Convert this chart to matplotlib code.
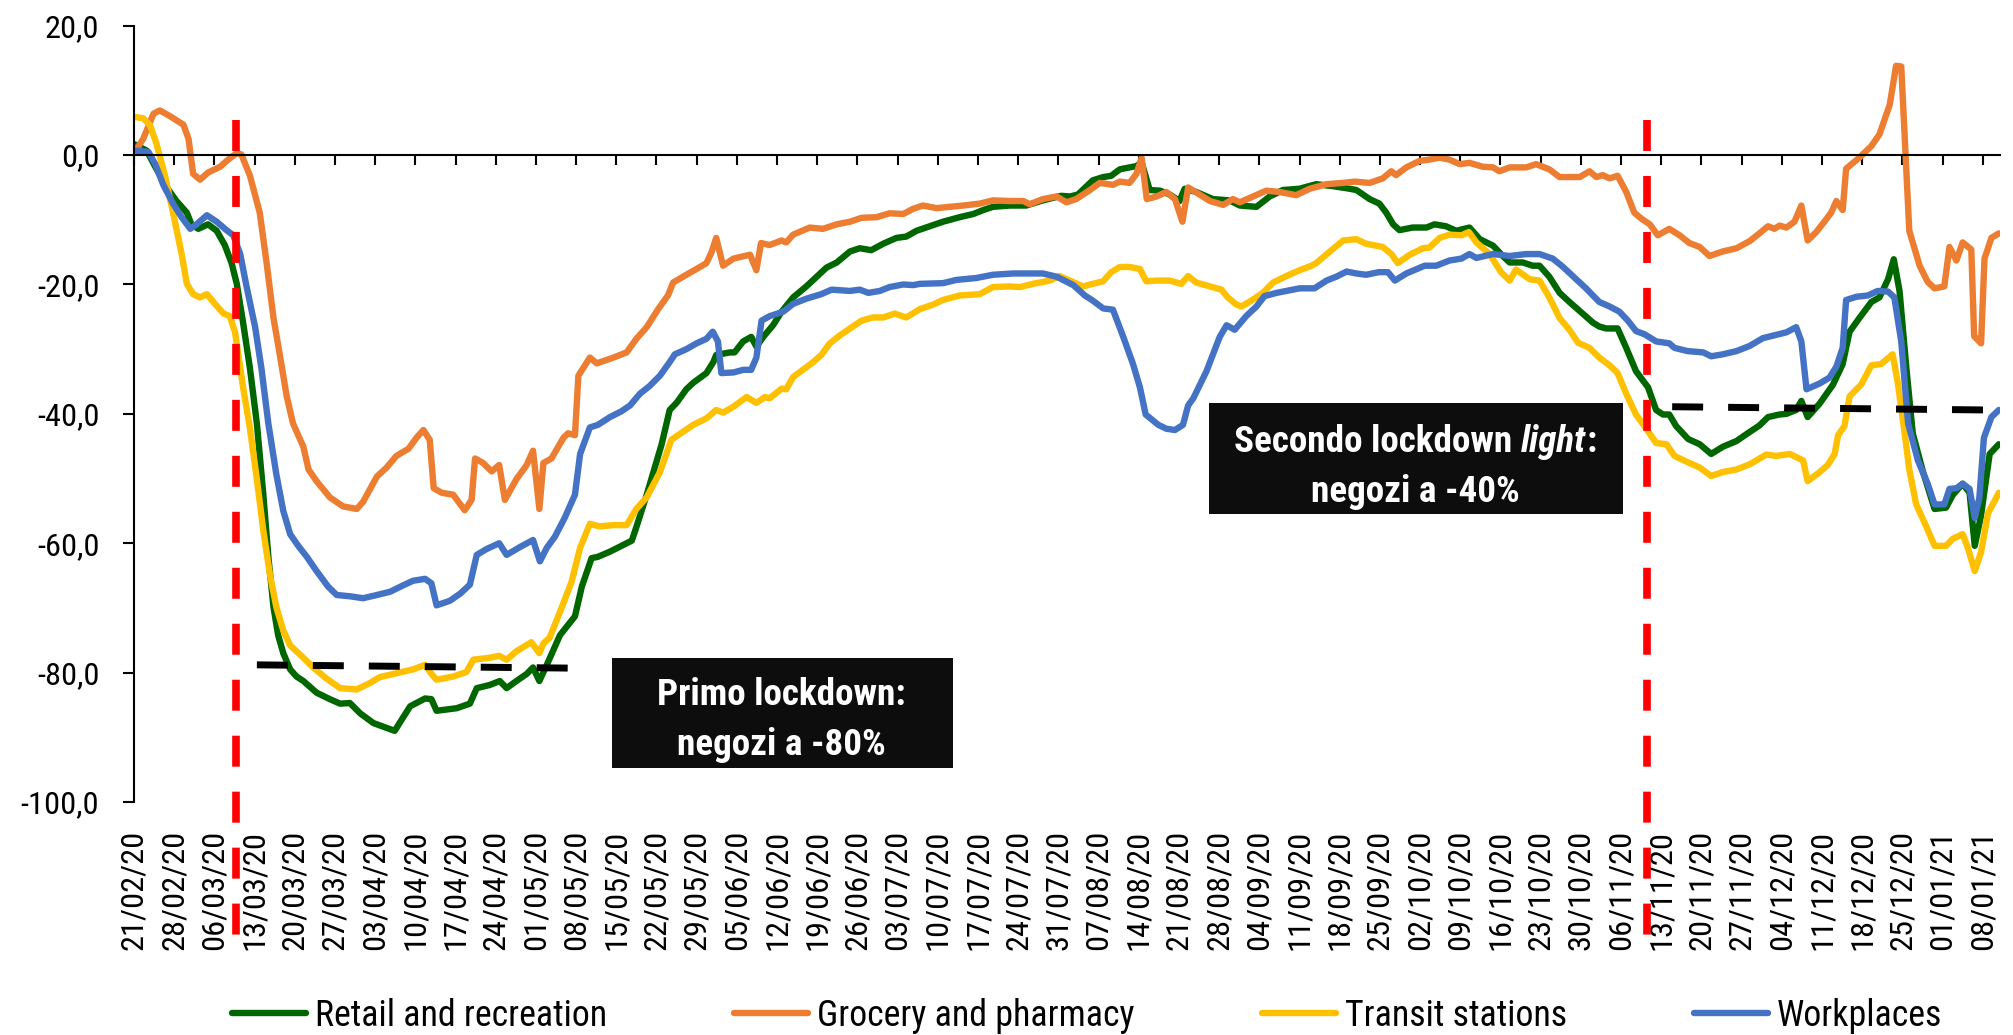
import matplotlib
matplotlib.use('Agg')
import matplotlib.pyplot as plt
from matplotlib import font_manager as fm
from matplotlib.lines import Line2D
from matplotlib.patches import Rectangle
import numpy as np
from datetime import datetime, timedelta

# ---------------- data (x = days since 21/02/2020) ----------------
START = datetime(2020, 2, 21)

retail_days = [0, 2.2, 3.7, 5.7, 7.4, 9.2, 10.0, 11.2, 12.9, 14.4, 15.8, 17.0, 17.9, 19.0, 20.2, 21.4,
               22.5, 23.4, 24.3, 25.1, 26.0, 27.2, 28.3, 29.5, 31.8, 34.1, 35.9, 37.6, 39.4, 41.7, 45.4,
               48.1, 50.7, 51.8, 52.7, 56.2, 58.5, 59.7, 62.0, 63.7, 64.9, 66.6, 68.4, 69.5, 70.6, 71.9,
               74.2, 76.8, 78.0, 79.7, 80.8, 82.9, 84.9, 86.7, 87.5, 89.3, 91.9, 93.3, 94.5, 96.2, 97.4,
               99.7, 100.9, 101.4, 103.8, 104.6, 106.1, 107.5, 108.4, 109.6, 111.3, 112.8, 114.8, 117.1,
               118.9, 120.6, 122.4, 124.7, 126.4, 128.4, 130.5, 132.8, 134.5, 136.3, 138.6, 140.9, 143.8,
               146.2, 147.9, 149.6, 152.5, 155.4, 158.3, 161.5, 163.0, 164.4, 167.0, 168.8, 170.2, 171.7,
               174.6, 175.5, 176.9, 178.7, 180.4, 182.1, 183.0, 185.0, 187.9, 190.8, 192.6, 195.5, 197.8,
               200.1, 203.0, 205.9, 208.8, 211.7, 212.9, 215.2, 216.9, 218.1, 219.3, 220.4, 222.7, 225.1,
               226.5, 228.5, 230.3, 232.6, 234.4, 236.7, 238.4, 239.6, 241.9, 243.6, 244.8, 246.5, 248.3,
               250.0, 252.3, 254.1, 255.2, 256.4, 258.4, 259.9, 261.6, 263.7, 265.1, 266.3, 267.4, 268.6,
               270.7, 272.7, 274.7, 276.7, 279.1, 281.4, 283.1, 284.6, 286.6, 287.8, 289.5, 290.4, 291.5,
               293.6, 295.9, 297.6, 298.8, 300.5, 302.6, 304.0, 305.5, 306.5, 307.5, 308.7, 309.8, 311.6,
               313.6, 315.6, 316.8, 318.5, 319.7, 320.6, 321.7, 323.2, 324.8]
retail_vals = [1.7, 0.7, -1.8, -5.0, -7.1, -8.9, -10.7, -11.4, -10.7, -11.7, -13.9, -16.7, -19.9, -25.9, -33.0, -41.5,
               -52.2, -62.1, -69.9, -74.2, -77.0, -79.5, -80.6, -81.3, -83.1, -84.1, -84.8, -84.7, -86.3, -87.8, -89.0,
               -85.2, -84.0, -84.1, -85.9, -85.5, -84.8, -82.4, -81.9, -81.3, -82.4, -81.3, -80.2, -79.2, -81.3, -78.8,
               -74.2, -71.3, -66.7, -62.3, -62.1, -61.3, -60.4, -59.6, -57.5, -52.5, -44.7, -39.4, -38.3, -36.2, -35.2,
               -33.7, -32.0, -30.9, -30.5, -30.5, -28.8, -28.1, -29.6, -28.1, -26.3, -24.2, -22.0, -20.3,
               -18.8, -17.4, -16.6, -14.9, -14.4, -14.7, -13.7, -12.8, -12.6, -11.7, -11.0, -10.3, -9.6,
               -9.1, -8.5, -8.0, -7.8, -7.8, -7.0, -6.3, -6.4, -6.1, -3.9, -3.4, -3.2, -2.2,
               -1.7, -1.1, -5.4, -5.5, -6.1, -7.1, -5.2, -5.7, -6.8, -7.0, -7.8, -8.0, -6.4,
               -5.4, -5.2, -4.5, -4.8, -5.2, -5.4, -6.8, -7.5, -8.9, -10.7, -11.6, -11.2, -11.2,
               -10.7, -11.0, -11.7, -11.2, -13.0, -14.0, -15.6, -16.6, -16.6, -17.1, -17.1, -18.8, -21.3,
               -22.7, -24.5, -25.9, -26.5, -26.8, -26.8, -29.8, -33.4, -35.9, -39.4, -40.1, -40.1, -41.9,
               -43.9, -44.7, -46.2, -45.1, -44.2, -42.8, -41.8, -40.5, -40.1, -40.0, -39.4, -38.0, -40.5,
               -38.4, -35.5, -32.3, -27.3, -25.2, -22.7, -22.0, -19.2, -16.1, -21.0, -33.0, -43.0, -49.0,
               -54.7, -54.5, -52.5, -50.8, -52.2, -60.4, -55.7, -46.2, -44.7]

grocery_days = [0, 1.6, 3.4, 4.5, 6.3, 8.6, 9.5, 10.3, 11.5, 12.9, 15.0, 16.4, 17.9, 18.7, 20.2, 21.9, 23.1,
                24.3, 25.4, 26.6, 27.7, 29.5, 30.4, 31.8, 34.1, 36.4, 38.8, 39.9, 42.3, 44.0, 45.7, 47.8,
                49.2, 50.4, 51.5, 52.2, 53.6, 55.6, 57.6, 58.8, 59.4, 60.8, 62.3, 63.6, 64.6, 66.6, 68.4,
                69.5, 70.6, 71.3, 72.7, 74.8, 75.6, 76.8, 77.4, 79.4, 80.6, 83.5, 85.8, 87.5, 89.3, 91.3,
                93.0, 93.9, 96.2, 98.0, 99.7, 100.6, 101.4, 102.6, 104.4, 107.3, 108.4, 109.2, 110.7, 112.8,
                113.6, 114.8, 117.7, 120.0, 122.4, 124.7, 126.7, 129.3, 131.6, 134.0, 135.7, 137.4, 139.8,
                142.1, 144.4, 147.3, 149.6, 152.5, 154.9, 156.0, 158.3, 160.7, 162.4, 164.1, 166.5, 168.2,
                170.5, 171.7, 173.4, 174.6, 175.5, 176.4, 178.1, 179.8, 181.3, 182.6, 183.6, 185.6, 187.4,
                189.7, 191.4, 192.6, 194.9, 197.2, 199.5, 202.4, 204.8, 207.7, 210.6, 212.6, 215.2, 217.5,
                219.0, 219.8, 221.6, 223.9, 225.6, 227.4, 229.1, 230.9, 232.6, 234.9, 236.7, 237.8, 239.6,
                242.5, 244.2, 246.5, 248.3, 251.8, 253.5, 254.7, 255.8, 257.0, 258.4, 259.9, 261.3, 262.5,
                264.0, 265.4, 267.4, 269.2, 270.9, 272.7, 274.4, 276.7, 279.1, 281.4, 283.1, 284.6, 285.7,
                286.6, 287.8, 289.2, 290.4, 291.5, 293.0, 294.4, 295.6, 296.5, 297.6, 298.2, 300.5, 302.6,
                304.0, 305.8, 306.9, 307.8, 309.2, 311.0, 312.4, 313.6, 315.3, 316.2, 317.4, 318.5, 320.0,
                320.5, 321.7, 322.3, 323.5, 324.8]
grocery_vals = [0.3, 2.5, 6.4, 6.9, 6.0, 4.7, 2.5, -2.9, -3.8, -2.7, -1.8, -0.7, 0.3, 0.1, -3.2, -8.9, -16.7,
                -25.2, -30.9, -37.3, -41.5, -45.1, -48.6, -50.4, -52.9, -54.3, -54.7, -53.6, -49.7, -48.3, -46.5, -45.4,
                -43.7, -42.5, -44.0, -51.5, -52.2, -52.5, -54.9, -53.3, -46.9, -47.6, -48.9, -47.9, -53.3, -50.1, -47.9,
                -45.7, -54.7, -47.6, -46.9, -43.7, -43.0, -43.3, -34.1, -31.3, -32.2, -31.3, -30.5, -28.4, -26.6, -23.8,
                -21.7, -19.7, -18.5, -17.6, -16.7, -15.0, -12.8, -17.1, -16.0, -15.4, -17.8, -13.6, -13.9, -13.2,
                -13.5, -12.3, -11.2, -11.4, -10.7, -10.3, -9.7, -9.6, -9.0, -9.1, -8.3, -7.8, -8.2,
                -8.0, -7.8, -7.5, -7.0, -7.1, -7.1, -7.6, -6.8, -6.4, -7.3, -6.8, -5.4, -4.3,
                -4.6, -4.1, -4.3, -2.9, -0.4, -6.8, -6.4, -5.7, -6.8, -10.3, -5.0, -6.1, -7.1,
                -7.7, -6.8, -7.3, -6.4, -5.5, -5.7, -6.2, -5.2, -4.5, -4.3, -4.1, -4.3, -3.6,
                -2.5, -3.1, -1.9, -0.9, -0.7, -0.4, -0.7, -1.4, -1.2, -1.8, -1.9, -2.5, -1.9,
                -1.9, -1.4, -2.2, -3.4, -3.4, -2.5, -3.4, -3.1, -3.6, -3.2, -5.7, -8.9, -9.8,
                -10.7, -12.4, -11.4, -12.4, -13.6, -14.2, -15.6, -14.9, -14.4, -13.3, -12.1, -11.0, -11.4,
                -10.9, -11.2, -10.3, -7.8, -13.2, -11.9, -10.3, -8.9, -7.1, -8.5, -2.1, -0.4, 1.4,
                3.2, 7.8, 13.8, 13.7, -11.7, -17.1, -19.6, -20.6, -20.3, -14.2, -16.3, -13.5, -14.6,
                -28.0, -29.1, -16.0, -12.8, -12.1]

transit_days = [0, 1.6, 2.8, 3.9, 5.4, 6.8, 8.3, 9.2, 10.3, 11.5, 12.7, 14.1, 15.6, 16.7, 17.6, 19.0, 20.2,
                21.4, 22.5, 23.7, 24.8, 26.0, 27.2, 29.5, 31.2, 33.5, 35.9, 38.8, 41.1, 42.8, 45.7, 48.6,
                50.7, 51.8, 52.7, 55.6, 57.9, 59.1, 62.0, 63.6, 64.9, 66.6, 69.2, 70.6, 71.3, 72.4, 74.2,
                76.2, 77.7, 79.4, 81.1, 83.5, 85.8, 87.5, 89.3, 91.6, 93.6, 95.1, 97.4, 99.7, 101.4, 102.6,
                104.4, 106.7, 108.4, 109.9, 110.7, 112.8, 113.6, 114.8, 116.8, 118.3, 119.7, 121.2, 122.9,
                124.7, 126.7, 128.7, 130.5, 132.5, 134.5, 136.9, 139.2, 140.9, 143.8, 147.3, 149.6, 152.5,
                154.3, 156.6, 159.5, 161.2, 163.0, 165.3, 167.0, 168.8, 170.2, 171.7, 173.4, 175.2, 176.3,
                178.1, 180.4, 182.4, 183.6, 185.0, 187.4, 189.4, 190.5, 192.0, 192.9, 194.6, 196.6, 198.4,
                200.7, 203.0, 205.1, 205.9, 208.3, 210.6, 212.9, 214.6, 217.5, 219.0, 220.1, 222.2, 224.5,
                225.6, 227.4, 229.1, 231.2, 232.5, 233.8, 236.1, 238.1, 239.6, 240.7, 243.1, 244.8, 246.5,
                248.3, 250.0, 251.5, 253.5, 255.2, 257.0, 258.4, 259.9, 261.6, 263.4, 265.1, 266.9, 268.3,
                270.9, 272.7, 274.7, 276.7, 279.1, 281.4, 284.3, 286.0, 288.4, 290.7, 291.5, 293.6, 295.0,
                296.2, 296.8, 297.9, 298.8, 300.8, 302.6, 304.3, 306.3, 307.2, 308.4, 309.2, 310.4, 312.2,
                313.6, 315.6, 316.8, 318.5, 319.4, 320.6, 321.7, 322.9, 324.8]
transit_vals = [5.9, 5.7, 4.6, 1.8, -3.2, -8.9, -15.3, -19.9, -21.5, -22.0, -21.5, -23.0, -24.5, -24.9, -27.4, -35.9, -42.3,
                -50.1, -57.9, -65.0, -69.9, -73.5, -75.8, -77.7, -79.2, -80.9, -82.4, -82.6, -81.6, -80.7, -80.1, -79.5,
                -78.8, -80.2, -81.1, -80.6, -79.9, -78.0, -77.7, -77.4, -78.0, -76.7, -75.3, -77.0, -75.5, -74.6, -70.6,
                -66.0, -60.7, -57.0, -57.4, -57.2, -57.2, -54.7, -52.9, -49.0, -44.0, -43.1, -41.7, -40.7, -39.4, -39.8,
                -38.9, -37.4, -38.3, -37.4, -37.6, -36.1, -36.2, -34.3, -33.0, -32.0, -30.9, -29.1, -27.9,
                -26.8, -25.6, -25.1, -25.1, -24.5, -25.1, -23.8, -23.1, -22.4, -21.7, -21.5, -20.4, -20.3,
                -20.4, -19.9, -19.4, -18.7, -19.4, -20.3, -19.9, -19.5, -18.1, -17.3, -17.3, -17.6, -19.5,
                -19.4, -19.4, -19.9, -18.7, -19.7, -20.3, -20.8, -22.0, -23.1, -23.4, -22.5, -21.3, -19.7,
                -18.7, -17.8, -17.1, -16.7, -14.9, -13.2, -13.0, -13.7, -14.2, -15.3, -16.7, -15.4, -14.4,
                -14.3, -12.8, -12.3, -12.4, -11.9, -13.5, -15.3, -18.1, -19.4, -17.7, -19.2, -19.4, -22.0,
                -25.2, -27.0, -29.0, -29.8, -31.3, -32.5, -33.7, -36.9, -40.1, -42.3, -44.5, -44.7, -46.5,
                -47.6, -48.3, -49.6, -49.0, -48.6, -47.8, -46.3, -46.5, -46.2, -47.2, -50.4, -49.0, -47.9,
                -46.2, -43.3, -41.9, -37.3, -35.5, -32.5, -32.3, -30.8, -35.2, -43.0, -48.6, -54.0, -57.5,
                -60.4, -60.4, -59.3, -58.6, -60.7, -64.3, -61.4, -55.4, -52.2]

work_days = [0, 2.5, 3.7, 5.1, 6.8, 8.3, 9.8, 10.9, 12.7, 14.4, 16.1, 17.3, 18.5, 19.6, 21.1, 22.2, 23.4,
             24.8, 26.0, 27.2, 28.6, 30.1, 31.8, 33.8, 35.3, 37.6, 39.9, 42.3, 44.6, 46.9, 48.6, 50.7,
             51.8, 52.7, 55.0, 56.8, 58.5, 59.7, 61.4, 63.6, 64.9, 67.2, 69.5, 70.7, 71.9, 73.3, 75.0,
             76.8, 77.7, 79.4, 80.8, 82.9, 84.9, 86.4, 88.1, 89.8, 91.6, 93.3, 94.2, 96.2, 98.0, 99.7,
             100.8, 101.7, 102.3, 104.4, 106.1, 107.5, 108.4, 109.3, 110.7, 113.1, 114.8, 117.1, 119.7,
             121.5, 124.7, 126.4, 127.9, 129.9, 131.6, 134.0, 135.7, 136.9, 140.9, 143.2, 146.7, 149.6,
             153.1, 156.0, 158.3, 160.7, 163.6, 165.6, 167.0, 168.8, 170.5, 172.3, 174.0, 175.2, 176.2,
             178.4, 179.8, 181.3, 182.7, 183.6, 184.5, 186.8, 189.1, 190.3, 191.7, 193.7, 195.5, 196.9,
             199.0, 200.7, 203.0, 205.6, 207.7, 209.4, 211.2, 212.9, 214.6, 216.8, 218.4, 219.6, 221.6,
             224.8, 226.8, 229.1, 231.2, 232.6, 233.8, 236.7, 239.6, 242.5, 244.8, 247.1, 248.9, 251.2,
             252.9, 255.2, 257.0, 258.7, 260.2, 261.6, 263.1, 265.1, 267.4, 268.3, 270.6, 273.3, 274.7,
             276.7, 279.1, 281.4, 283.7, 285.5, 287.8, 289.5, 290.4, 291.3, 293.6, 295.3, 296.5, 297.6,
             298.2, 300.0, 302.0, 303.7, 305.5, 306.6, 307.8, 309.0, 310.7, 312.4, 313.6, 315.3, 316.2,
             317.4, 318.5, 319.7, 320.6, 321.4, 322.2, 323.5, 324.8]
work_vals = [0.7, 0.5, -1.4, -4.6, -7.5, -9.6, -11.4, -10.7, -9.3, -10.3, -11.6, -12.4, -15.3, -20.3, -26.6, -33.0, -41.5,
             -49.4, -55.0, -58.6, -60.4, -62.1, -64.3, -66.7, -68.0, -68.2, -68.5, -68.0, -67.5, -66.5, -65.8, -65.5,
             -66.2, -69.6, -68.9, -67.8, -66.4, -61.8, -60.9, -60.0, -61.8, -60.6, -59.5, -62.8, -60.7, -59.0, -56.1,
             -52.5, -46.2, -42.1, -41.7, -40.5, -39.6, -38.7, -36.9, -35.7, -34.1, -32.0, -30.8, -30.0, -29.1, -28.4,
             -27.3, -28.8, -33.7, -33.6, -33.2, -33.2, -31.3, -25.6, -24.9, -24.2, -23.0, -22.2, -21.5,
             -20.8, -21.0, -20.8, -21.3, -21.0, -20.4, -20.0, -20.1, -19.9, -19.8, -19.3, -19.0, -18.5,
             -18.3, -18.3, -18.3, -18.8, -20.1, -21.7, -22.5, -23.7, -23.9, -28.1, -32.3, -35.9, -40.1,
             -41.7, -42.3, -42.5, -41.7, -38.7, -37.6, -33.4, -28.1, -26.3, -27.0, -24.9, -23.4, -21.8,
             -21.3, -21.0, -20.6, -20.6, -19.4, -18.8, -18.0, -18.3, -18.5, -18.1, -18.1, -19.4, -18.3,
             -17.1, -17.1, -16.3, -16.0, -15.3, -15.9, -15.3, -15.6, -15.3, -15.3, -16.0, -17.3, -19.2,
             -20.6, -22.7, -23.4, -24.2, -25.6, -27.2, -27.7, -28.8, -29.1, -29.8, -30.3, -30.5, -31.1,
             -30.8, -30.3, -29.5, -28.3, -27.9, -27.4, -26.6, -28.8, -36.2, -35.3, -34.4, -32.7, -29.8,
             -22.4, -21.9, -21.7, -21.0, -21.1, -22.0, -28.8, -41.5, -47.2, -50.8, -54.0, -54.0, -51.6,
             -51.5, -50.8, -51.6, -56.1, -53.0, -43.7, -40.5, -39.4]

series_names = ["Retail and recreation", "Grocery and pharmacy", "Transit stations", "Workplaces"]
series_colors = ["#006600", "#ED7D31", "#FFC000", "#4472C4"]

lockdown_days = [17.8, 263.5]                      # red dashed markers
level_lines = [((21.4, 75.6), (-78.8, -79.3)),     # black dashed "shop" levels
               ((267.9, 322.5), (-38.9, -39.4))]

# ---------------- fonts (narrow sans, like Arial Narrow) ----------------
avail = {f.name for f in fm.fontManager.ttflist}
prefs = ['Liberation Sans Narrow', 'Arial Narrow', 'Roboto Condensed', 'Archivo Narrow',
         'PT Sans Narrow', 'Fira Sans Condensed', 'IBM Plex Sans Condensed', 'Pragati Narrow',
         'Encode Sans Semi Condensed', 'Sofia Sans Semi Condensed', 'Liberation Sans']
FONT = next((p for p in prefs if p in avail), 'DejaVu Sans')
plt.rcParams['font.family'] = [FONT, 'DejaVu Sans']

W, H = 2013, 1035
fig = plt.figure(figsize=(W / 100, H / 100), dpi=100)
renderer = fig.canvas.get_renderer()

def text_width(s, size, **kw):
    t = fig.text(0, 0, s, fontsize=size, **kw)
    w = t.get_window_extent(renderer).width
    t.remove()
    return w

def fit_size(s, target_px, **kw):
    fs = 27 * target_px / text_width(s, 27, **kw)
    return float(min(max(fs, 18), 34))

FS_TICK = fit_size("21/02/20", 120)
FS_LEG = fit_size("Retail and recreation", 292)
FS_BOX = fit_size("Primo lockdown:", 249, fontweight='bold')

# ---------------- axes ----------------
ax = fig.add_axes([134 / W, 1 - 802 / H, (2000 - 134) / W, (802 - 25.7) / H])
ax.set_xlim(0, 325)
ax.set_ylim(-100, 20)

LW = 4.6
all_days = [retail_days, grocery_days, transit_days, work_days]
all_vals = [retail_vals, grocery_vals, transit_vals, work_vals]
for i, (d, v, c) in enumerate(zip(all_days, all_vals, series_colors)):
    ax.plot(d, v, color=c, lw=LW, solid_joinstyle='round', solid_capstyle='round', zorder=2 + i * 0.1)

for d in lockdown_days:
    ax.plot([d, d], [5.46, -120.5], color='#FF0000', lw=5.5, dashes=(22.3 / 5.5, 18 / 5.5),
            clip_on=False, zorder=3)
for (xs, ys) in level_lines:
    ax.plot(xs, ys, color='black', lw=5.0, dashes=(22.3 / 5.0, 18 / 5.0), zorder=3.1)

for s in ['top', 'right']:
    ax.spines[s].set_visible(False)
ax.spines['left'].set_linewidth(1.5)
ax.spines['bottom'].set_position(('data', 0))
ax.spines['bottom'].set_linewidth(1.5)

xt = np.arange(0, 325, 7)
ax.set_xticks(xt)
ax.tick_params(axis='x', direction='out', length=7.5, width=1.5, labelbottom=False)
yt = np.arange(-100, 21, 20)
ax.set_yticks(yt)
ax.set_yticklabels([f"{v:.1f}".replace('.', ',') for v in yt])
ax.tick_params(axis='y', direction='out', length=8, width=1.5, pad=17, labelsize=FS_TICK)

sec = ax.secondary_xaxis('bottom')
sec.set_xticks(xt)
sec.set_xticklabels([(START + timedelta(days=int(d))).strftime('%d/%m/%y') for d in xt],
                    rotation=90, fontsize=FS_TICK)
sec.tick_params(axis='x', length=0, pad=20)
sec.spines['bottom'].set_visible(False)

# ---------------- annotation boxes ----------------
ax.add_patch(Rectangle((83.2, -94.7), 142.6 - 83.2, 17.0, facecolor='#0d0d0d', edgecolor='none',
                       zorder=5, clip_on=False))
ax.add_patch(Rectangle((187.2, -55.5), 259.3 - 187.2, 17.2, facecolor='#0d0d0d', edgecolor='none',
                       zorder=5, clip_on=False))

tkw = dict(color='white', fontsize=FS_BOX, fontweight='bold', va='baseline', zorder=6)
ax.text(112.8, -85.0, "Primo lockdown:", ha='center', **tkw)
ax.text(112.8, -92.7, "negozi a -80%", ha='center', **tkw)
ax.text(223.2, -53.7, "negozi a -40%", ha='center', **tkw)

space_w = (text_width("a a", FS_BOX, fontweight='bold') - text_width("aa", FS_BOX, fontweight='bold'))
pieces = [("Secondo lockdown", 'normal'), (" ", None), ("light", 'italic'), (":", 'normal')]
widths = [space_w if st is None else text_width(s, FS_BOX, fontweight='bold', fontstyle=st)
          for s, st in pieces]
xc_disp = ax.transData.transform((223.2, -45.9))[0]
x0 = xc_disp - sum(widths) / 2
inv = ax.transData.inverted()
for (s, st), w in zip(pieces, widths):
    if st is not None:
        xd = inv.transform((x0, 0))[0]
        ax.text(xd, -45.9, s, ha='left', fontstyle=st, **tkw)
    x0 += w

# ---------------- legend ----------------
px_em = FS_LEG * 100 / 72
handles = [Line2D([], [], color=c, lw=LW, solid_capstyle='round') for c in series_colors]
fig.legend(handles, series_names, loc='center left', bbox_to_anchor=(232 / W, 1 - 1016 / H),
           ncol=4, frameon=False, fontsize=FS_LEG, handlelength=74 / px_em,
           handletextpad=9 / px_em, columnspacing=127 / px_em, borderaxespad=0, borderpad=0)

fig.savefig('out.png', dpi=100)
